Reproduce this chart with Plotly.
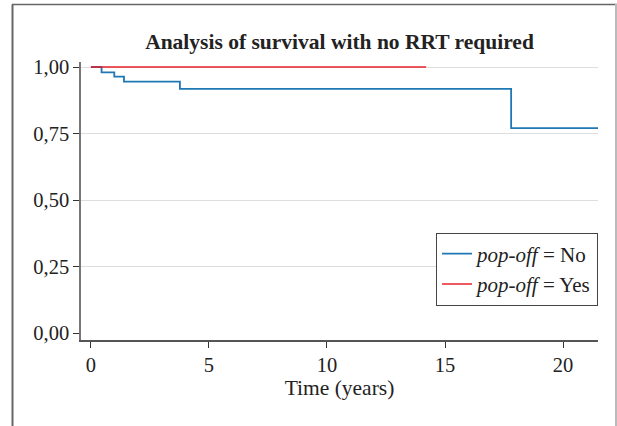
import plotly.graph_objects as go

# Data
time_no = [0, 0.45, 0.99, 1.4, 3.77, 17.8, 21.5]
surv_no = [1.0, 0.980, 0.964, 0.945, 0.918, 0.770, 0.770]
time_yes = [0, 14.2]
surv_yes = [1.0, 1.0]
x_ticks = [0, 5, 10, 15, 20]
y_ticks = [0, 0.25, 0.5, 0.75, 1.0]
series_names = ["<i>pop-off</i> = No", "<i>pop-off</i> = Yes"]

W, H = 617, 426
ML, MR, MT, MB = 81, 19, 62, 86
pw, ph = W - ML - MR, H - MT - MB

fig = go.Figure()
fig.add_trace(go.Scatter(x=time_no, y=surv_no, mode="lines", line_shape="hv",
                         line=dict(color="#1f77b4", width=1.8), name=series_names[0]))
fig.add_trace(go.Scatter(x=time_yes, y=surv_yes, mode="lines", line_shape="hv",
                         line=dict(color="#e8202a", width=1.5), name=series_names[1]))

font = "Liberation Serif, Times New Roman, serif"

def px_x(p):
    return (p - ML) / pw

def px_y(p):
    return (H - MB - p) / ph

# y pixel of 0 -> 333, of 1 -> 67 ; plot spans 62..340
y_per = 333 - 67
y_lo = -(340 - 333) / y_per
y_hi = 1 + (67 - 62) / y_per

fig.update_layout(
    width=W, height=H,
    margin=dict(l=ML, r=MR, t=MT, b=MB),
    paper_bgcolor="white", plot_bgcolor="white",
    separators=",.",
    font=dict(family=font, size=20, color="#222"),
    title=dict(text="<b>Analysis of survival with no RRT required</b>",
               x=0.5, xref="paper", xanchor="center",
               y=1 - 41 / H, yanchor="middle",
               font=dict(family=font, size=21.5, color="#222")),
    showlegend=True,
    legend=dict(x=1, xanchor="right", y=px_y(269), yanchor="middle",
                bordercolor="#444", borderwidth=1, bgcolor="white",
                font=dict(family=font, size=21, color="#222"),
                tracegroupgap=0, itemwidth=30),
    xaxis=dict(range=[-0.42, 21.48], tickvals=x_ticks, ticktext=[str(v) for v in x_ticks],
               showgrid=False, zeroline=False,
               showline=True, linecolor="#555", linewidth=1.5,
               ticks="outside", ticklen=6, tickcolor="#333",
               tickfont=dict(family=font, size=20.5, color="#222"),
               title=dict(text="Time (years)", font=dict(family=font, size=21.5, color="#222"),
                          standoff=4)),
    yaxis=dict(range=[y_lo, y_hi], tickvals=y_ticks, tickformat=".2f",
               showgrid=True, gridcolor="#dedede", gridwidth=1,
               zeroline=True, zerolinecolor="white", zerolinewidth=1,
               showline=True, linecolor="#777", linewidth=1.5,
               ticks="outside", ticklen=6, tickcolor="#333",
               tickfont=dict(family=font, size=20.5, color="#222")),
    shapes=[
        dict(type="line", xref="paper", yref="paper",
             x0=px_x(12.5), x1=px_x(12.5), y0=px_y(4.5), y1=px_y(430),
             line=dict(color="#666", width=2)),
        dict(type="line", xref="paper", yref="paper",
             x0=px_x(12), x1=px_x(617), y0=px_y(4.5), y1=px_y(4.5),
             line=dict(color="#666", width=1.5)),
        dict(type="line", xref="paper", yref="paper",
             x0=px_x(616), x1=px_x(616), y0=px_y(4), y1=px_y(430),
             line=dict(color="#bbb", width=2)),
    ],
)

fig.write_html("out.html", config={"displayModeBar": False},
               post_script="document.body.style.margin='0';")
